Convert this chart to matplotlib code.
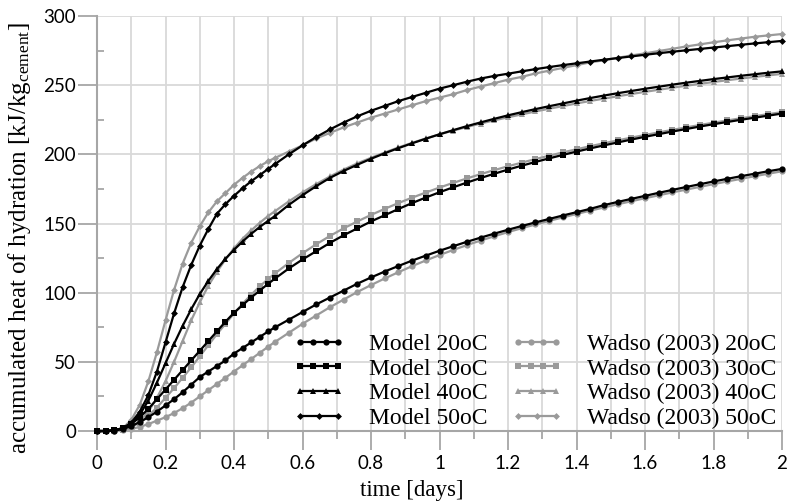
import numpy as np
import matplotlib
matplotlib.use("Agg")
import matplotlib.pyplot as plt
from matplotlib.ticker import MultipleLocator
from matplotlib.legend_handler import HandlerLine2D

# time grid [days]
days = [0.0, 0.025, 0.05, 0.075, 0.1, 0.125, 0.15, 0.175, 0.2, 0.225, 0.25,
        0.275, 0.3, 0.325, 0.35, 0.375, 0.4, 0.425, 0.45, 0.475, 0.5,
        0.52, 0.56, 0.60, 0.64, 0.68, 0.72, 0.76, 0.80, 0.84, 0.88, 0.92, 0.96,
        1.00, 1.04, 1.08, 1.12, 1.16, 1.20, 1.24, 1.28, 1.32, 1.36, 1.40, 1.44,
        1.48, 1.52, 1.56, 1.60, 1.64, 1.68, 1.72, 1.76, 1.80, 1.84, 1.88, 1.92,
        1.96, 2.00]

# accumulated heat [kJ/kg cement]
model_20 = [0, 0, 0.3, 1.5, 3.5, 6.5, 10, 14, 18.5, 23, 28, 33.5, 39, 43, 47, 51, 56, 60, 64, 68, 72,
            75, 80.5, 86, 91.5, 96.5, 101.5, 106.5, 111, 115.3, 119.3, 123.2, 126.8,
            130.3, 133.6, 136.8, 139.8, 142.7, 145.5, 148.2, 150.8, 153.3, 155.8, 158.2, 160.6,
            163.3, 165.6, 167.8, 170, 172.2, 174.3, 176.4, 178.4, 180.4, 182.3, 184.2, 186,
            187.8, 189.5]
model_30 = [0, 0, 0.5, 2, 5, 10, 16, 23, 30, 37, 44, 51, 58, 65, 72, 79, 85.5, 91, 96.5, 101.5, 106.5,
            110.3, 117.5, 124, 130, 136, 141.5, 146.5, 151.5, 156, 160.5, 164.8, 168.8,
            172.6, 176.2, 179.6, 182.9, 186, 189, 191.8, 194.5, 197.1, 199.6, 202, 204.3,
            206.5, 208.6, 210.7, 212.7, 214.6, 216.5, 218.3, 220.1, 221.8, 223.4, 225, 226.5,
            228, 229.5]
model_40 = [0, 0, 0.5, 2, 5, 12, 22, 35, 49, 63, 76, 88, 99, 108.5, 117, 124.5, 131, 137, 142.5, 147.5, 152,
            155.5, 163.5, 170.5, 177, 183, 188, 192.5, 196.8, 200.8, 204.5, 208, 211.3,
            214.5, 217.5, 220.4, 223.1, 225.7, 228.2, 230.5, 232.7, 234.8, 236.8, 238.8, 240.7,
            242.5, 244.2, 245.8, 247.4, 248.9, 250.4, 251.8, 253.1, 254.4, 255.6, 256.8, 257.9,
            259, 260]
model_50 = [0, 0, 0.5, 2, 6, 14, 26, 43, 64, 85, 104, 120, 134, 146, 157, 164, 170, 175.5, 180.5, 185, 189.5,
            193, 200, 206.5, 212.5, 218, 223, 227.5, 231.5, 235, 238.5, 241.5, 244.5,
            247.5, 250, 252.5, 254.8, 256.7, 258.3, 260, 261.6, 263.1, 264.5, 265.8, 267.1,
            268.4, 269.6, 270.8, 272, 273.1, 274.2, 275.2, 276.2, 277.2, 278.2, 279.2, 280.2,
            281.1, 282]
wadso_20 = [0, 0, 0.2, 0.6, 1.5, 3, 5, 7.5, 10, 13, 16.5, 20.5, 25, 29.5, 34, 38.5, 43, 47.5, 52, 56.5, 61,
            64.5, 71, 77.5, 83.5, 89.5, 95, 100.5, 105.5, 110.3, 114.8, 119.2, 123.3,
            127.2, 130.9, 134.4, 137.7, 140.8, 143.8, 146.6, 149.3, 151.9, 154.4, 156.9, 159.3,
            161.6, 163.9, 166.1, 168.3, 170.4, 172.5, 174.5, 176.5, 178.5, 180.4, 182.3, 184.2,
            186, 187.8]
wadso_30 = [0, 0, 0.3, 1, 3, 6, 11, 17, 24, 31, 38.5, 46, 54, 62, 70, 77.5, 85, 92, 98.5, 104.5, 110,
            114, 121.5, 128.5, 135, 141, 146.5, 151.5, 156.2, 160.6, 164.8, 168.7, 172.4,
            176, 179.4, 182.6, 185.7, 188.6, 191.4, 194, 196.6, 199, 201.4, 203.7, 205.9,
            208, 210.1, 212.1, 214, 215.9, 217.7, 219.5, 221.2, 222.9, 224.5, 226.1, 227.6,
            229.1, 230.5]
wadso_40 = [0, 0, 0.3, 1, 3, 7, 14, 24, 36, 50, 65, 80, 93, 105, 115, 124, 132, 139, 145, 150.5, 155.5,
            159, 166, 172.5, 178.5, 184, 189, 193.5, 197.5, 201.3, 205, 208.3, 211.5,
            214.5, 217.2, 219.8, 222.3, 224.6, 226.8, 228.9, 231, 233, 234.9, 236.8, 238.6,
            240.3, 242, 243.6, 245.2, 246.7, 248.2, 249.6, 251, 252.3, 253.6, 254.8, 256,
            257.1, 258.2]
wadso_50 = [0, 0, 0.5, 2, 8, 19, 36, 57, 80, 102, 121, 136, 148, 158, 166, 172, 178, 183, 187.5, 191.5, 195,
            197.5, 202, 206.5, 211.5, 215.5, 219.5, 223, 226.5, 229.5, 232.5, 235.5, 238.5,
            241, 243.5, 246.5, 249, 251.5, 254, 256, 258.5, 260.5, 262.5, 264.5, 266.5,
            268, 269.8, 271.5, 273, 274.7, 276.3, 278, 279.5, 281, 282.4, 283.7, 285,
            286, 287]

plt.rcParams['mathtext.fontset'] = 'custom'
plt.rcParams['mathtext.rm'] = 'Liberation Serif'
plt.rcParams['mathtext.it'] = 'Liberation Serif:italic'

black = '#000000'
grey = '#9a9a9a'
axis_grey = '#a6a6a6'

fig = plt.figure(figsize=(7.88, 5.04), dpi=100)
ax = fig.add_axes([0.1231, 0.1448, 0.8693, 0.8234])

series = [
    (model_20, black, 'o', 4.5, 'Model 20oC'),
    (model_30, black, 's', 5.0, 'Model 30oC'),
    (model_40, black, '^', 5.0, 'Model 40oC'),
    (model_50, black, 'D', 3.5, 'Model 50oC'),
    (wadso_20, grey, 'o', 4.5, 'Wadso (2003) 20oC'),
    (wadso_30, grey, 's', 5.0, 'Wadso (2003) 30oC'),
    (wadso_40, grey, '^', 5.0, 'Wadso (2003) 40oC'),
    (wadso_50, grey, 'D', 3.5, 'Wadso (2003) 50oC'),
]

handles = {}
# grey (measured) below, model on top
for vals, col, mk, ms, lab in series[4:] + series[:4]:
    line, = ax.plot(days, vals, color=col, marker=mk, markersize=ms, lw=1.6,
                    markeredgewidth=0, label=lab, zorder=3 if col == black else 2,
                    clip_on=False)
    handles[lab] = line

ax.set_xlim(0, 2)
ax.set_ylim(0, 300)
ax.xaxis.set_major_locator(MultipleLocator(0.2))
ax.xaxis.set_minor_locator(MultipleLocator(0.1))
ax.yaxis.set_major_locator(MultipleLocator(50))
ax.yaxis.set_minor_locator(MultipleLocator(25))
ax.xaxis.set_major_formatter(plt.FuncFormatter(lambda v, p: ('%g' % round(v, 1))))

ax.grid(which='major', axis='y', color='#d9d9d9', lw=1.3, zorder=0)
ax.grid(which='both', axis='x', color='#d9d9d9', lw=1.3, zorder=0)
ax.set_axisbelow(True)

for s in ['top', 'right']:
    ax.spines[s].set_visible(False)
for s in ['left', 'bottom']:
    ax.spines[s].set_color(axis_grey)
    ax.spines[s].set_linewidth(1.5)

ax.tick_params(axis='both', which='major', direction='out', length=14, width=1.3,
               color=axis_grey, labelsize=13.5)
ax.tick_params(axis='x', which='major', pad=3)
ax.tick_params(axis='y', which='major', pad=1)
ax.tick_params(axis='x', which='minor', direction='out', length=6, width=1.3, color=axis_grey)
ax.tick_params(axis='y', which='minor', direction='in', length=5, width=1.3, color=axis_grey)
for lbl in ax.get_xticklabels() + ax.get_yticklabels():
    lbl.set_fontfamily('Lato')

ax.set_xlabel('time [days]', fontfamily='Liberation Serif', fontsize=16.5)
ax.xaxis.set_label_coords(0.46, -0.118)
ax.set_ylabel(r'accumulated heat of hydration [kJ/kg$_{\mathrm{cement}}$]',
              fontfamily='Liberation Serif', fontsize=18)
ax.yaxis.set_label_coords(-0.094, 0.465)

order = ['Model 20oC', 'Model 30oC', 'Model 40oC', 'Model 50oC',
         'Wadso (2003) 20oC', 'Wadso (2003) 30oC', 'Wadso (2003) 40oC', 'Wadso (2003) 50oC']
hmap = {handles[k]: HandlerLine2D(numpoints=3 if '50' in k else 4) for k in order}
leg = ax.legend([handles[k] for k in order], order, ncol=2, loc='lower right',
                bbox_to_anchor=(1.012, -0.03), frameon=False, handler_map=hmap,
                prop={'family': 'Liberation Serif', 'size': 17},
                handlelength=2.2, handletextpad=1.0, columnspacing=1.0,
                labelspacing=0.14, borderaxespad=0.2)

fig.savefig('out.png', dpi=100)
